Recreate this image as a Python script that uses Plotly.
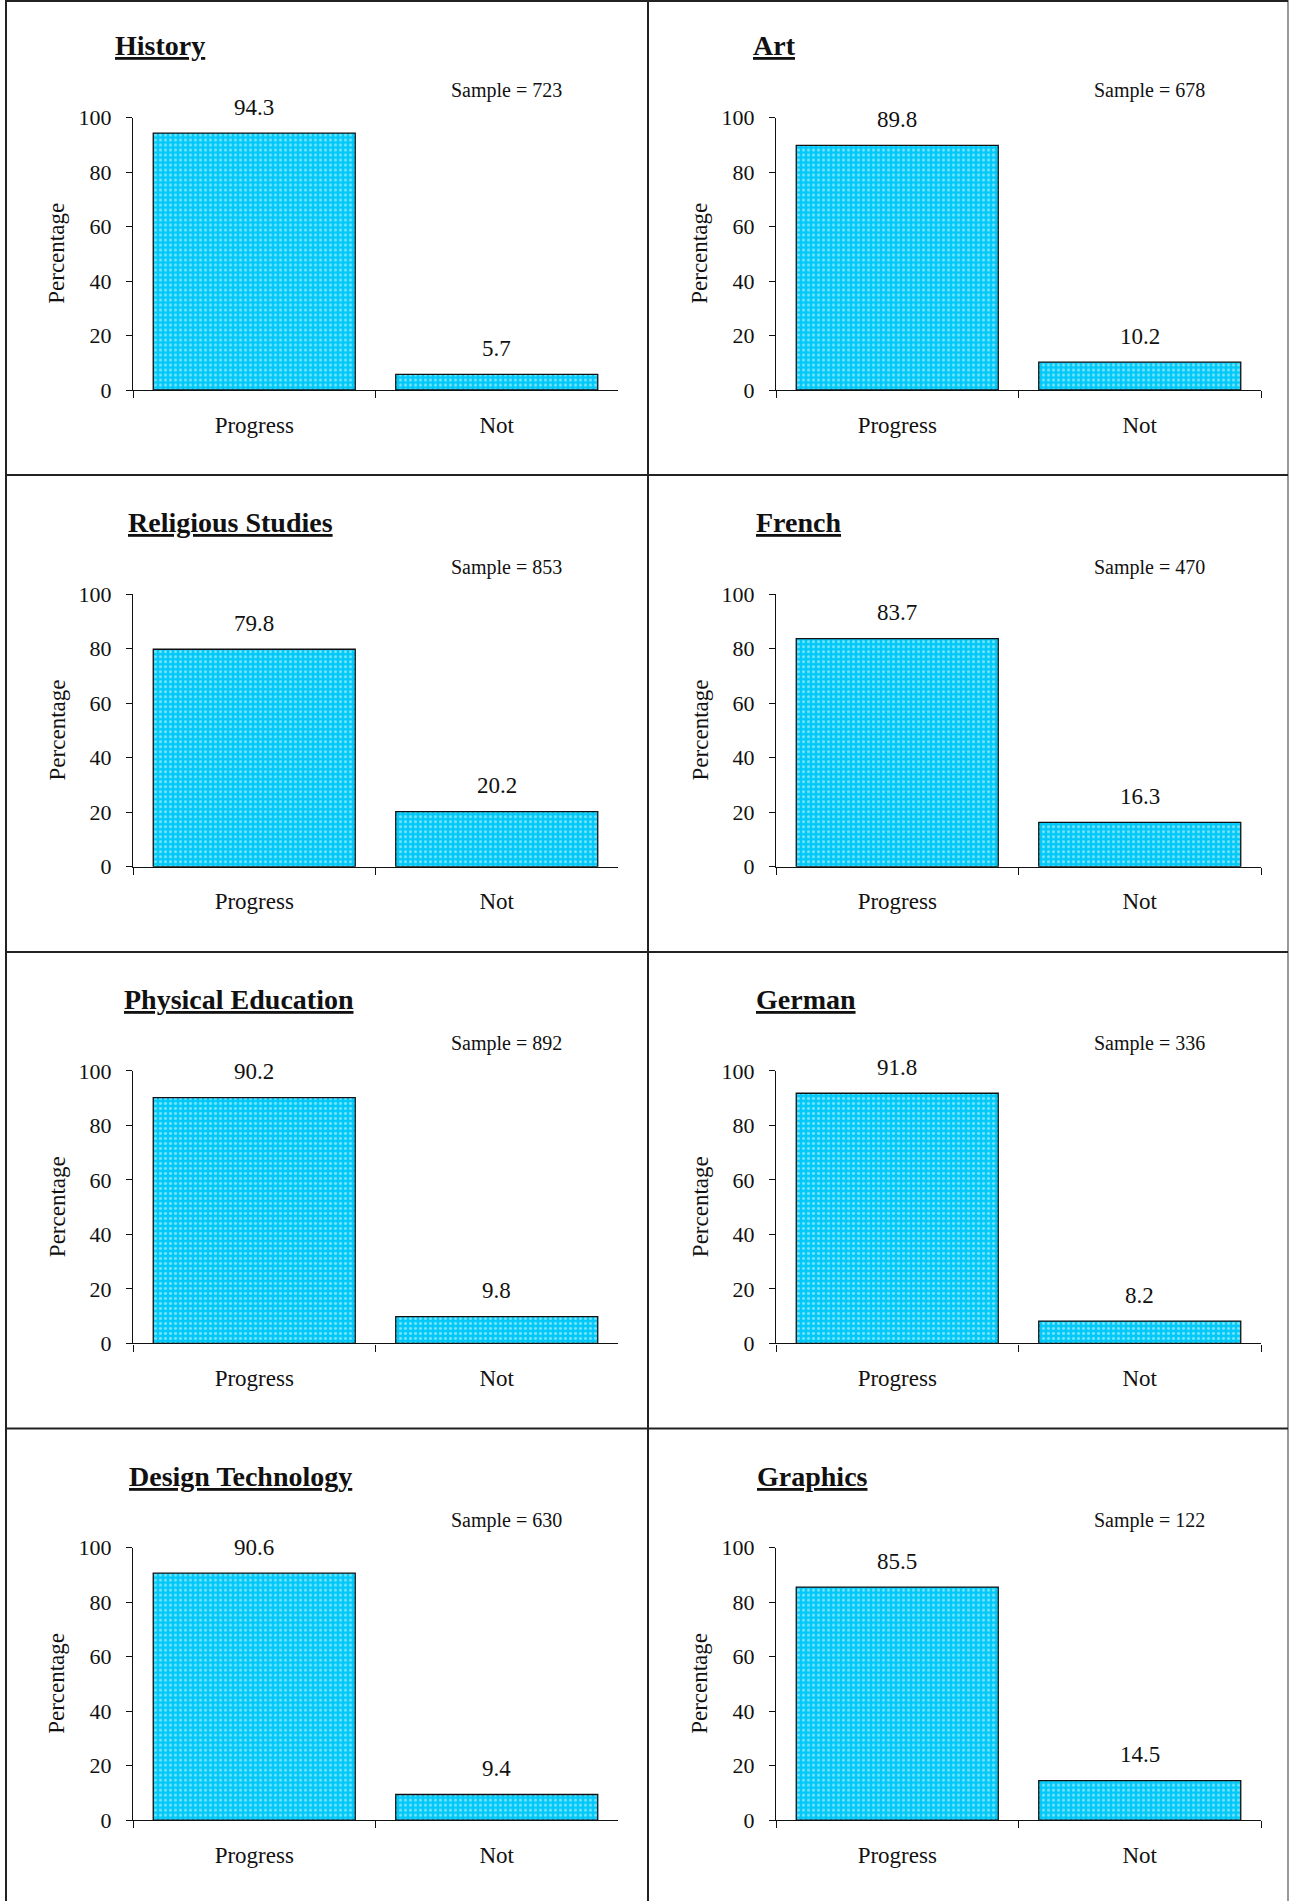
import plotly.graph_objects as go

# ---- data ----
subjects = ["History", "Art", "Religious Studies", "French",
            "Physical Education", "German", "Design Technology", "Graphics"]
categories = ["Progress", "Not"]
progress = [94.3, 89.8, 79.8, 83.7, 90.2, 91.8, 90.6, 85.5]
not_progress = [5.7, 10.2, 20.2, 16.3, 9.8, 8.2, 9.4, 14.5]
samples = [723, 678, 853, 470, 892, 336, 630, 122]
y_ticks = [0, 20, 40, 60, 80, 100]

# ---- layout constants (pixels) ----
W, H = 1289, 1901
FONT = "Liberation Serif"
COL_OFF = 643.0
ROW_OFF = 476.7
AX_X0, AX_X1 = 133.0, 618.0
AX_Y100, AX_Y0 = 117.5, 390.0
title_left = [113, 108, 126, 111, 122, 111, 127, 112]

def px(x):
    return x / W

def py(y):
    return 1 - y / H

fig = go.Figure()
annotations = []
shapes = []

for i, subj in enumerate(subjects):
    r, c = divmod(i, 2)
    xo = c * COL_OFF
    yo = r * ROW_OFF
    n = i + 1
    xa = "x" if n == 1 else f"x{n}"
    ya = "y" if n == 1 else f"y{n}"
    vals = [progress[i], not_progress[i]]
    fig.add_trace(go.Bar(
        x=categories, y=vals, xaxis=xa, yaxis=ya,
        marker=dict(
            color="#00C8F8",
            line=dict(color="#111111", width=1.3),
            pattern=dict(shape=".", bgcolor="#00C8F8", fgcolor="#E8FBFF",
                         size=5, solidity=0.3, fillmode="overlay"),
        ),
        showlegend=False, hoverinfo="skip",
    ))
    for cat, v in zip(categories, vals):
        annotations.append(dict(
            x=cat, y=v, xref=xa, yref=ya, text=f"{v:.1f}", showarrow=False,
            yanchor="middle", yshift=26,
            font=dict(family=FONT, size=23, color="#111111"),
        ))
    lay_x = "xaxis" if n == 1 else f"xaxis{n}"
    lay_y = "yaxis" if n == 1 else f"yaxis{n}"
    fig.layout[lay_x] = dict(
        domain=[px(AX_X0 + xo), px(AX_X1 + xo)],
        anchor=ya, type="category", range=[-0.5, 1.5],
        showline=True, linecolor="#111111", linewidth=1.3,
        ticks="outside", tickson="boundaries", ticklen=7,
        tickcolor="#111111", tickwidth=1.3,
        showgrid=False, zeroline=False, fixedrange=True, automargin=False,
        tickfont=dict(family=FONT, size=23, color="#111111"),
        ticklabelstandoff=14,
    )
    fig.layout[lay_y] = dict(
        domain=[py(AX_Y0 + yo), py(AX_Y100 + yo)],
        anchor=xa, range=[0, 100], tickvals=y_ticks,
        showline=True, linecolor="#111111", linewidth=1.3,
        ticks="outside", ticklen=6, tickcolor="#111111", tickwidth=1.3,
        showgrid=False, zeroline=False, fixedrange=True, automargin=False,
        tickfont=dict(family=FONT, size=22, color="#111111"),
        ticklabelstandoff=10,
    )
    # subject title
    annotations.append(dict(
        x=px(title_left[i] + xo), y=py(46 + yo), xref="paper", yref="paper",
        xanchor="left", yanchor="middle", showarrow=False,
        text=f"<b><u>{subj}</u></b>",
        font=dict(family=FONT, size=28, color="#111111"),
    ))
    # sample size
    annotations.append(dict(
        x=px(564 + xo), y=py(90.5 + yo), xref="paper", yref="paper",
        xanchor="right", yanchor="middle", showarrow=False,
        text=f"Sample = {samples[i]}",
        font=dict(family=FONT, size=20, color="#111111"),
    ))
    # y axis title
    annotations.append(dict(
        x=px(57 + xo), y=py((AX_Y0 + AX_Y100) / 2 + yo), xref="paper", yref="paper",
        xanchor="center", yanchor="middle", showarrow=False, textangle=-90,
        text="Percentage",
        font=dict(family=FONT, size=23, color="#111111"),
    ))

# table grid lines
for gx, col in [(6, "#222222"), (648, "#222222"), (1288, "#999999")]:
    shapes.append(dict(type="line", xref="paper", yref="paper",
                       x0=px(gx), x1=px(gx), y0=0, y1=1,
                       line=dict(color=col, width=2)))
for gy in [1, 475, 952, 1428.5]:
    shapes.append(dict(type="line", xref="paper", yref="paper",
                       x0=px(6), x1=px(1288), y0=py(gy), y1=py(gy),
                       line=dict(color="#222222", width=2)))

fig.update_layout(
    width=W, height=H,
    margin=dict(l=0, r=0, t=0, b=0, autoexpand=False),
    paper_bgcolor="white", plot_bgcolor="white",
    bargap=0.167,
    annotations=annotations, shapes=shapes,
    font=dict(family=FONT, color="#111111"),
)

fig.write_html(
    "out.html",
    config={"displayModeBar": False},
    post_script="document.body.style.margin='0px';document.body.style.padding='0px';document.body.style.overflow='hidden';",
)
